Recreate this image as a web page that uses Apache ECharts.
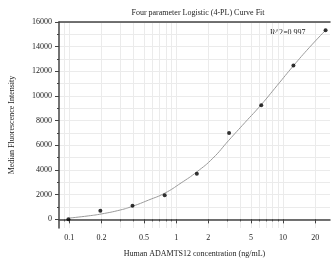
<!DOCTYPE html>
<html>
<head>
<meta charset="utf-8">
<script src="https://cdn.jsdelivr.net/npm/echarts@6/dist/echarts.min.js"></script>
<style>
  html, body { margin: 0; padding: 0; background: #fff; }
  #box1 { width: 331px; height: 264px; }
</style>
</head>
<body>
<div id="box1"></div>
<script>
/* 4-PL standard curve */
var concentration = [0.098, 0.195, 0.39, 0.78, 1.56, 3.125, 6.25, 12.5, 25];
var fluorescence = [0, 700, 1100, 1960, 3700, 7010, 9250, 12480, 15330];

// fitted curve
var fitX = [0.1, 0.15, 0.2, 0.3, 0.39, 0.55, 0.78, 1.11, 1.56, 2.2, 3.1, 4.4, 6.25, 8.8, 12.5, 17.7, 25];
var fitY = [105, 280, 440, 760, 1060, 1560, 2120, 2950, 3850, 4950, 6400, 7850, 9300, 10850, 12450, 13950, 15330];

var xLabels = [0.1, 0.2, 0.5, 1, 2, 5, 10, 20];
var xMinor = [0.09, 0.1, 0.2, 0.3, 0.4, 0.5, 0.6, 0.7, 0.8, 0.9, 1, 2, 3, 4, 5, 6, 7, 8, 9, 10, 20];
var yLabels = [0, 2000, 4000, 6000, 8000, 10000, 12000, 14000, 16000];
var yMinor = [0, 1000, 2000, 3000, 4000, 5000, 6000, 7000, 8000, 9000, 10000, 11000, 12000, 13000, 14000, 15000, 16000];

var dom = document.getElementById("box1");
var myChart = echarts.init(dom, null, { renderer: 'canvas' });
var font = 'Liberation Serif';
var axisColor = '#444';
var gridColor = '#ebebeb';

var xMin = 0.08, xMax = 27.5;
var yMin = -700, yMax = 16000;

option = {
    animation: false,
    textStyle: { fontFamily: font },
    title: {
        text: 'Four parameter Logistic (4-PL) Curve Fit',
        left: 193, top: 4, textAlign: 'center',
        textStyle: { fontFamily: font, fontSize: 8, fontWeight: 'normal', color: '#222' }
    },
    grid: { left: 57, right: 1, top: 22, bottom: 36, containLabel: false },
    graphic: [{
        type: 'text', left: 270, top: 29,
        style: { text: 'R^2=0.997', fontFamily: font, fontSize: 8, fill: '#222' }
    }],
    xAxis: [
        {
            type: 'log', min: xMin, max: xMax, position: 'bottom',
            name: 'Human ADAMTS12 concentration (ng/mL)',
            nameLocation: 'middle', nameGap: 22,
            nameTextStyle: { fontFamily: font, fontSize: 8, color: '#222' },
            axisLine: { show: true, lineStyle: { color: axisColor, width: 1.5 } },
            axisTick: { show: true, length: 4, customValues: xLabels, lineStyle: { color: axisColor } },
            axisLabel: {
                customValues: xLabels, margin: 6, fontFamily: font, fontSize: 8, color: '#222',
                formatter: function (v) { return String(+Number(v).toPrecision(3)); }
            },
            splitLine: { show: false }
        },
        {
            type: 'log', min: xMin, max: xMax, position: 'bottom',
            axisLine: { show: false },
            axisTick: { show: true, length: 2, customValues: xMinor, lineStyle: { color: axisColor } },
            axisLabel: { show: false },
            splitLine: { show: true, lineStyle: { color: gridColor, width: 1 } }
        },
        {
            type: 'log', min: xMin, max: xMax, position: 'top',
            axisLine: { show: true, lineStyle: { color: axisColor, width: 1.5 } },
            axisTick: { show: false }, axisLabel: { show: false }, splitLine: { show: false }
        }
    ],
    yAxis: [
        {
            type: 'value', min: yMin, max: yMax, position: 'left',
            name: 'Median Fluorescence Intensity',
            nameLocation: 'middle', nameGap: 43,
            nameTextStyle: { fontFamily: font, fontSize: 8, color: '#222' },
            axisLine: { show: true, lineStyle: { color: axisColor, width: 1.5 } },
            axisTick: { show: true, length: 4, customValues: yLabels, lineStyle: { color: axisColor } },
            axisLabel: {
                customValues: yLabels, margin: 7, fontFamily: font, fontSize: 8, color: '#222',
                formatter: function (v) { return String(v); }
            },
            splitLine: { show: false }
        },
        {
            type: 'value', min: yMin, max: yMax, position: 'left',
            axisLine: { show: false },
            axisTick: { show: true, length: 2, customValues: yMinor, lineStyle: { color: axisColor } },
            axisLabel: { show: false },
            splitLine: { show: true, lineStyle: { color: gridColor, width: 1 } }
        }
    ],
    series: [
        {
            type: 'line', xAxisIndex: 0, yAxisIndex: 0,
            data: fitX.map(function (x, i) { return [x, fitY[i]]; }),
            smooth: true, showSymbol: false, silent: true,
            lineStyle: { color: '#9a9a9a', width: 1 }, z: 3
        },
        {
            type: 'scatter', xAxisIndex: 0, yAxisIndex: 0,
            data: concentration.map(function (x, i) { return [x, fluorescence[i]]; }),
            symbol: 'circle', symbolSize: 4,
            itemStyle: { color: '#000' }, z: 4
        }
    ]
};

if (option && typeof option === "object") {
    myChart.setOption(option, true);
}
</script>
</body>
</html>
